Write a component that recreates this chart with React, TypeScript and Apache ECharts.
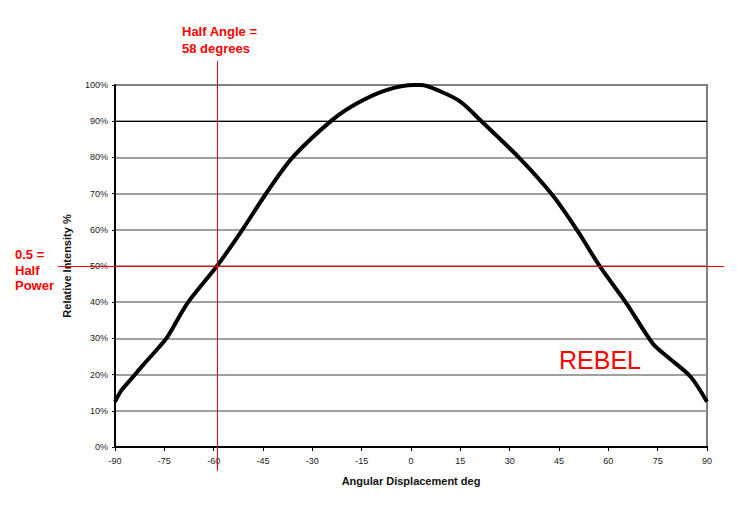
import React, { useEffect, useRef } from "react";
import * as echarts from "echarts";

// Angular displacement (deg) and relative intensity (%)
const angles = [-90, -88, -84.5, -81.5, -76.5, -74, -68, -59, -52, -44, -36, -24, -16.5, -7.5, 1, 3, 9, 15, 21.5, 33, 43, 50.5, 57.5, 65.5, 73.5, 78, 85, 90];
const intensity = [12.5, 15.7, 19.4, 22.6, 27.7, 30.5, 39.7, 50, 59, 70.1, 80, 90.3, 94.9, 98.6, 100, 100, 98.2, 95.4, 89.9, 79.8, 69.6, 59.9, 49.8, 39.7, 28.6, 24.9, 19.4, 12.5];

const xMin = -90;
const xMax = 90;
const xInterval = 15;
const yMin = 0;
const yMax = 100;
const yInterval = 10;

const halfAngleMarker = -59; // vertical red marker position (deg)
const halfPowerLevel = 50; // horizontal red marker (%)
const blackGridLevel = 90; // the one black gridline

const FONT = "'Liberation Sans', Arial, sans-serif";

export default function App() {
  const ref = useRef<HTMLDivElement>(null);

  useEffect(() => {
    document.body.style.margin = "0";
    const chart = echarts.init(ref.current!, null, { renderer: "svg" });
    const data = angles.map((a, i) => [a, intensity[i]]);
    chart.setOption({
      animation: false,
      backgroundColor: "#ffffff",
      grid: {
        left: 115,
        right: 36,
        top: 85,
        bottom: 65,
        containLabel: false,
        outerBoundsMode: "none",
        show: true,
        borderColor: "#808080",
        borderWidth: 2,
        backgroundColor: "transparent",
      },
      xAxis: {
        type: "value",
        min: xMin,
        max: xMax,
        interval: xInterval,
        name: "Angular Displacement deg",
        nameLocation: "middle",
        nameGap: 28,
        nameTextStyle: { fontFamily: FONT, fontSize: 11, fontWeight: "bold", color: "#111" },
        axisLine: { onZero: false, lineStyle: { color: "#000", width: 2 } },
        axisTick: { show: true, length: 4, lineStyle: { color: "#000" } },
        axisLabel: { fontFamily: FONT, fontSize: 9, color: "#222", margin: 9 },
        splitLine: { show: false },
      },
      yAxis: {
        type: "value",
        min: yMin,
        max: yMax,
        interval: yInterval,
        name: "Relative Intensity %",
        nameLocation: "middle",
        nameGap: 43,
        nameTextStyle: { fontFamily: FONT, fontSize: 11, fontWeight: "bold", color: "#111" },
        axisLine: { onZero: false, lineStyle: { color: "#000", width: 2 } },
        axisTick: { show: true, length: 3, lineStyle: { color: "#000" } },
        axisLabel: { fontFamily: FONT, fontSize: 9, color: "#222", margin: 7, formatter: "{value}%" },
        splitLine: { show: true, lineStyle: { color: "#808080", width: 1.5 } },
      },
      series: [
        {
          type: "line",
          data,
          smooth: 0.3,
          showSymbol: false,
          lineStyle: { color: "#000", width: 4 },
          z: 5,
          markLine: {
            silent: true,
            symbol: "none",
            label: { show: false },
            lineStyle: { color: "#000", width: 1, type: "solid" },
            data: [{ yAxis: blackGridLevel }],
            z: 3,
          },
        },
      ],
    });

    const grid = { gridIndex: 0 };
    const vTop = chart.convertToPixel(grid, [halfAngleMarker, yMax]) as number[];
    const vBot = chart.convertToPixel(grid, [halfAngleMarker, yMin]) as number[];
    const hL = chart.convertToPixel(grid, [xMin, halfPowerLevel]) as number[];
    const hR = chart.convertToPixel(grid, [xMax, halfPowerLevel]) as number[];
    const vx = Math.round(vTop[0]) + 0.5;
    const hy = Math.round(hL[1]) + 0.5;

    const red = "#ff0000";
    chart.setOption({
      graphic: [
        {
          type: "line",
          z: 10,
          shape: { x1: vx, y1: vTop[1] - 24, x2: vx, y2: vBot[1] + 24 },
          style: { stroke: red, lineWidth: 1 },
        },
        {
          type: "line",
          z: 10,
          shape: { x1: hL[0] - 57, y1: hy, x2: hR[0] + 17, y2: hy },
          style: { stroke: red, lineWidth: 1 },
        },
        {
          type: "text",
          left: 182,
          top: 23,
          style: { text: "Half Angle =\n58 degrees", fill: red, font: `bold 13px ${FONT}`, lineHeight: 17 },
        },
        {
          type: "text",
          left: 15,
          top: 247,
          style: { text: "0.5 =\nHalf\nPower", fill: red, font: `bold 13px ${FONT}`, lineHeight: 15.5 },
        },
        {
          type: "text",
          left: 559,
          top: 347,
          style: { text: "REBEL", fill: red, font: `25px ${FONT}` },
        },
      ],
    });

    return () => chart.dispose();
  }, []);

  return <div ref={ref} style={{ width: 743, height: 512 }} />;
}
